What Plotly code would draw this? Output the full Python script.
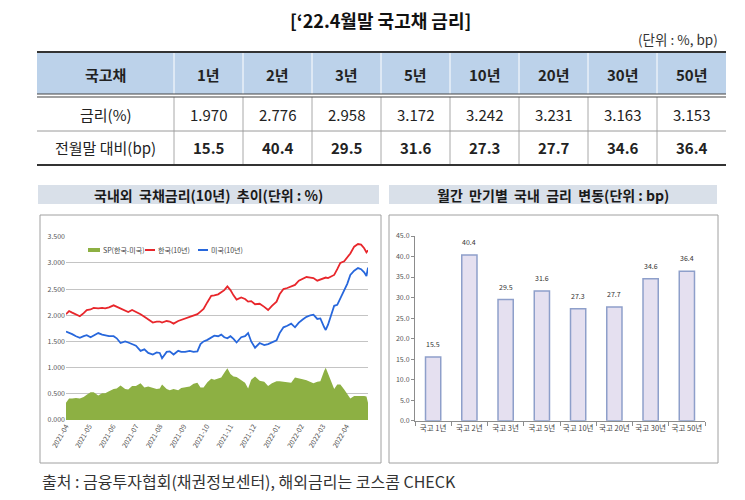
"""
'22.4월말 국고채 금리 - 표 + 국내외 10년 금리 추이 + 만기별 변동
"""
import plotly.graph_objects as go

# 브라우저 기본 body margin(8px)을 감안한 실제 그림 크기
OFF = 8
W, H = 745 - 2 * OFF, 500 - 2 * OFF

# 표 / 막대 데이터
maturities = ["1년", "2년", "3년", "5년", "10년", "20년", "30년", "50년"]
rates = [1.970, 2.776, 2.958, 3.172, 3.242, 3.231, 3.163, 3.153]
changes_bp = [15.5, 40.4, 29.5, 31.6, 27.3, 27.7, 34.6, 36.4]

# 국내외 10년 국채금리
dates = [
    "2021-04-01", "2021-04-05", "2021-04-09", "2021-04-14", "2021-04-19", "2021-04-24",
    "2021-04-28", "2021-05-03", "2021-05-07", "2021-05-13", "2021-05-18", "2021-05-22",
    "2021-05-27", "2021-06-02", "2021-06-06", "2021-06-11", "2021-06-17", "2021-06-21",
    "2021-06-26", "2021-07-01", "2021-07-07", "2021-07-12", "2021-07-17", "2021-07-23",
    "2021-07-28", "2021-08-01", "2021-08-04", "2021-08-10", "2021-08-14", "2021-08-19",
    "2021-08-25", "2021-08-29", "2021-09-03", "2021-09-09", "2021-09-14", "2021-09-19",
    "2021-09-23", "2021-09-27", "2021-10-02", "2021-10-07", "2021-10-11", "2021-10-16",
    "2021-10-20", "2021-10-24", "2021-10-28", "2021-11-01", "2021-11-05", "2021-11-09",
    "2021-11-15", "2021-11-20", "2021-11-24", "2021-11-28", "2021-12-03", "2021-12-09",
    "2021-12-15", "2021-12-20", "2021-12-25", "2021-12-31", "2022-01-04", "2022-01-09",
    "2022-01-14", "2022-01-19", "2022-01-24", "2022-01-29", "2022-02-03", "2022-02-08",
    "2022-02-13", "2022-02-17", "2022-02-22", "2022-02-26", "2022-03-03", "2022-03-05",
    "2022-03-08", "2022-03-12", "2022-03-16", "2022-03-20", "2022-03-24", "2022-03-29",
    "2022-04-02", "2022-04-06", "2022-04-11", "2022-04-16", "2022-04-20", "2022-04-24",
    "2022-04-27", "2022-04-29",
]
kr_10y = [
    2.02, 2.08, 2.05, 2.02, 1.98, 2.04,
    2.10, 2.11, 2.14, 2.13, 2.14, 2.13,
    2.15, 2.19, 2.16, 2.13, 2.09, 2.06,
    2.10, 2.07, 2.02, 1.97, 1.92, 1.86,
    1.88, 1.88, 1.86, 1.89, 1.88, 1.84,
    1.89, 1.91, 1.93, 1.96, 1.99, 2.02,
    2.07, 2.12, 2.25, 2.37, 2.38, 2.40,
    2.44, 2.48, 2.55, 2.48, 2.38, 2.30,
    2.34, 2.31, 2.26, 2.27, 2.21, 2.22,
    2.16, 2.10, 2.18, 2.26, 2.40, 2.50,
    2.52, 2.55, 2.58, 2.66, 2.70, 2.73,
    2.72, 2.71, 2.66, 2.68, 2.71, 2.72,
    2.71, 2.74, 2.77, 2.88, 3.00, 3.03,
    3.10, 3.18, 3.31, 3.36, 3.35, 3.28,
    3.20, 3.24,
]
us_10y = [
    1.69, 1.67, 1.64, 1.60, 1.57, 1.60,
    1.62, 1.58, 1.61, 1.66, 1.63, 1.62,
    1.60, 1.60, 1.56, 1.47, 1.50, 1.48,
    1.45, 1.42, 1.32, 1.35, 1.28, 1.25,
    1.29, 1.28, 1.18, 1.30, 1.31, 1.25,
    1.32, 1.30, 1.30, 1.32, 1.30, 1.31,
    1.45, 1.50, 1.53, 1.58, 1.61, 1.60,
    1.63, 1.58, 1.56, 1.60, 1.55, 1.48,
    1.58, 1.60, 1.66, 1.50, 1.38, 1.47,
    1.43, 1.45, 1.48, 1.52, 1.66, 1.77,
    1.80, 1.84, 1.77, 1.86, 1.92, 1.97,
    2.00, 2.01, 1.93, 1.94, 1.77, 1.72,
    1.82, 2.01, 2.18, 2.20, 2.32, 2.45,
    2.60, 2.77, 2.85, 2.90, 2.88, 2.82,
    2.75, 2.91,
]
# 스프레드 (한국 - 미국)
spread = [round(k - u, 3) for k, u in zip(kr_10y, us_10y)]
series_names = ["SP(한국-미국)", "한국(10년)", "미국(10년)"]
series_colors = ["#8db043", "#e8262b", "#2767dc"]

KFONT = "Noto Sans CJK KR"
NB = "\u00a0"


def px(x):
    return (x - OFF) / W


def py(y):
    return 1 - (y - OFF) / H


def note(x, y, text, size, color="#222", xanchor="center"):
    return dict(x=px(x), y=py(y), xref="paper", yref="paper", text=text,
                showarrow=False, xanchor=xanchor, yanchor="middle",
                font=dict(size=size, family=KFONT, color=color))


def pline(x0, x1, y0, y1, color, width):
    return dict(type="line", xref="paper", yref="paper", x0=px(x0), x1=px(x1),
                y0=py(y0), y1=py(y1), line=dict(color=color, width=width))


def prect(x0, x1, y0, y1, fill=None, line_color=None):
    return dict(type="rect", xref="paper", yref="paper", x0=px(x0), x1=px(x1),
                y0=py(y1), y1=py(y0), fillcolor=fill or "rgba(0,0,0,0)",
                line=dict(color=line_color or "rgba(0,0,0,0)", width=1 if line_color else 0),
                layer="below")


fig = go.Figure()

# 좌측: 국내외 국채금리 추이
fig.add_trace(go.Scatter(
    x=dates, y=spread, name=series_names[0], mode="lines",
    line=dict(width=0, color=series_colors[0]), fill="tozeroy",
    fillcolor=series_colors[0], xaxis="x", yaxis="y",
))
fig.add_trace(go.Scatter(
    x=dates, y=kr_10y, name=series_names[1], mode="lines",
    line=dict(width=1.8, color=series_colors[1]), xaxis="x", yaxis="y",
))
fig.add_trace(go.Scatter(
    x=dates, y=us_10y, name=series_names[2], mode="lines",
    line=dict(width=1.8, color=series_colors[2]), xaxis="x", yaxis="y",
))

# 우측: 만기별 변동 막대
bar_cats = ["국고 " + m for m in maturities]
fig.add_trace(go.Bar(
    x=bar_cats, y=changes_bp, width=0.42,
    marker=dict(color="#e5e0f0", line=dict(color="#8e9fca", width=1.5)),
    xaxis="x2", yaxis="y2",
))

shapes = []
ann = []

# 막대 위 값 표시
for c, v in zip(bar_cats, changes_bp):
    ann.append(dict(x=c, y=v, xref="x2", yref="y2", text=f"{v:.1f}", showarrow=False,
                    yanchor="bottom", yshift=6, font=dict(size=7, family=KFONT, color="#333")))

# 상단 제목
ann.append(note(380, 20, "<b>[‘22.4월말 국고채 금리]</b>", 18, "#111"))
ann.append(note(720, 39, "(단위 : %, bp)", 13.5, "#333", "right"))

# 표
col_edges = [37, 174, 243, 312, 381, 450, 519, 588, 657, 726]
top, hdr_bot, row1_top, row_sep, bot = 52, 94, 97, 131, 165
shapes.append(prect(37, 726, top, hdr_bot, fill="#bcd2ea"))
for cx in col_edges[1:-1]:
    shapes.append(pline(cx, cx, hdr_bot, top, "#ffffff", 1))
    shapes.append(pline(cx, cx, bot, row1_top, "#a8a8a8", 1))
for yy, wd, colr in [(top, 2.2, "#333"), (hdr_bot, 1.2, "#444"), (row1_top, 1.2, "#444"),
                     (row_sep, 1, "#9a9a9a"), (bot, 2.2, "#333")]:
    shapes.append(pline(37, 726, yy, yy, colr, wd))

centers = [(col_edges[i] + col_edges[i + 1]) / 2 for i in range(len(col_edges) - 1)]
header = ["국고채"] + maturities
row1 = ["금리(%)"] + [f"{v:.3f}" for v in rates]
row2 = ["전월말 대비(bp)"] + [f"{v:.1f}" for v in changes_bp]
for i, cx in enumerate(centers):
    ann.append(note(cx, 74, f"<b>{header[i]}</b>", 15))
    ann.append(note(cx, 114, row1[i], 15))
    ann.append(note(cx, 148, row2[i] if i == 0 else f"<b>{row2[i]}</b>", 15))

# 차트 제목 막대 + 박스
titles = ["국내외" + NB * 2 + "국채금리(10년)" + NB * 2 + "추이(단위 : %)",
          "월간" + NB * 2 + "만기별" + NB * 2 + "국내" + NB * 2 + "금리" + NB * 2 + "변동(단위 : bp)"]
for (x0, x1), title in zip([(38, 379), (389, 717)], titles):
    shapes.append(prect(x0, x1, 185, 204, fill="#d9e0e9"))
    ann.append(note((x0 + x1) / 2, 195, f"<b>{title}</b>", 14, "#1a1a1a"))
for (x0, x1) in [(40, 381), (389, 718)]:
    shapes.append(prect(x0, x1, 215, 463, line_color="#a0a0a0"))

# 좌측 차트 범례
ly = 250
shapes.append(dict(type="rect", xref="paper", yref="paper", x0=px(88), x1=px(100),
                   y0=py(ly + 2), y1=py(ly - 2), fillcolor=series_colors[0], line=dict(width=0)))
shapes.append(pline(145, 155, ly, ly, series_colors[1], 2))
shapes.append(pline(198, 208, ly, ly, series_colors[2], 2))
for lx, name in zip([101, 156, 209], series_names):
    ann.append(note(lx, ly, name, 7, "#444", "left"))

# 출처
ann.append(note(40, 481, "출처 : 금융투자협회(채권정보센터), 해외금리는 코스콤 CHECK", 16, "#333", "left"))

tick_font = dict(size=7, family=KFONT, color="#555")
fig.update_layout(
    width=W, height=H,
    margin=dict(l=0, r=0, t=0, b=0, autoexpand=False),
    paper_bgcolor="white", plot_bgcolor="white",
    showlegend=False,
    shapes=shapes, annotations=ann,
    xaxis=dict(domain=[px(66), px(368)], anchor="y", type="date",
               range=["2021-04-01", "2022-04-29"], tick0="2021-04-01", dtick="M1",
               tickformat="%Y-%m", tickangle=-60, tickfont=tick_font,
               showgrid=False, showline=False, zeroline=False),
    yaxis=dict(domain=[py(420), py(236.7)], anchor="x", range=[0, 3.5], dtick=0.5,
               tickformat=".3f", tickfont=tick_font, gridcolor="#c4c4c4",
               showline=False, zeroline=False),
    xaxis2=dict(domain=[px(415), px(705)], anchor="y2", tickfont=dict(size=7.5, family=KFONT, color="#444"),
                tickangle=0, showline=True, linecolor="#8c8c8c", ticks="outside", tickson="boundaries",
                ticklen=4, tickcolor="#8c8c8c", showgrid=False),
    yaxis2=dict(domain=[py(420.7), py(236)], anchor="x2", range=[0, 45], dtick=5,
                tickformat=".1f", tickfont=tick_font, showline=True, linecolor="#8c8c8c",
                ticks="outside", ticklen=3, tickcolor="#8c8c8c", showgrid=False, zeroline=False),
)

fig.write_html("out.html")
